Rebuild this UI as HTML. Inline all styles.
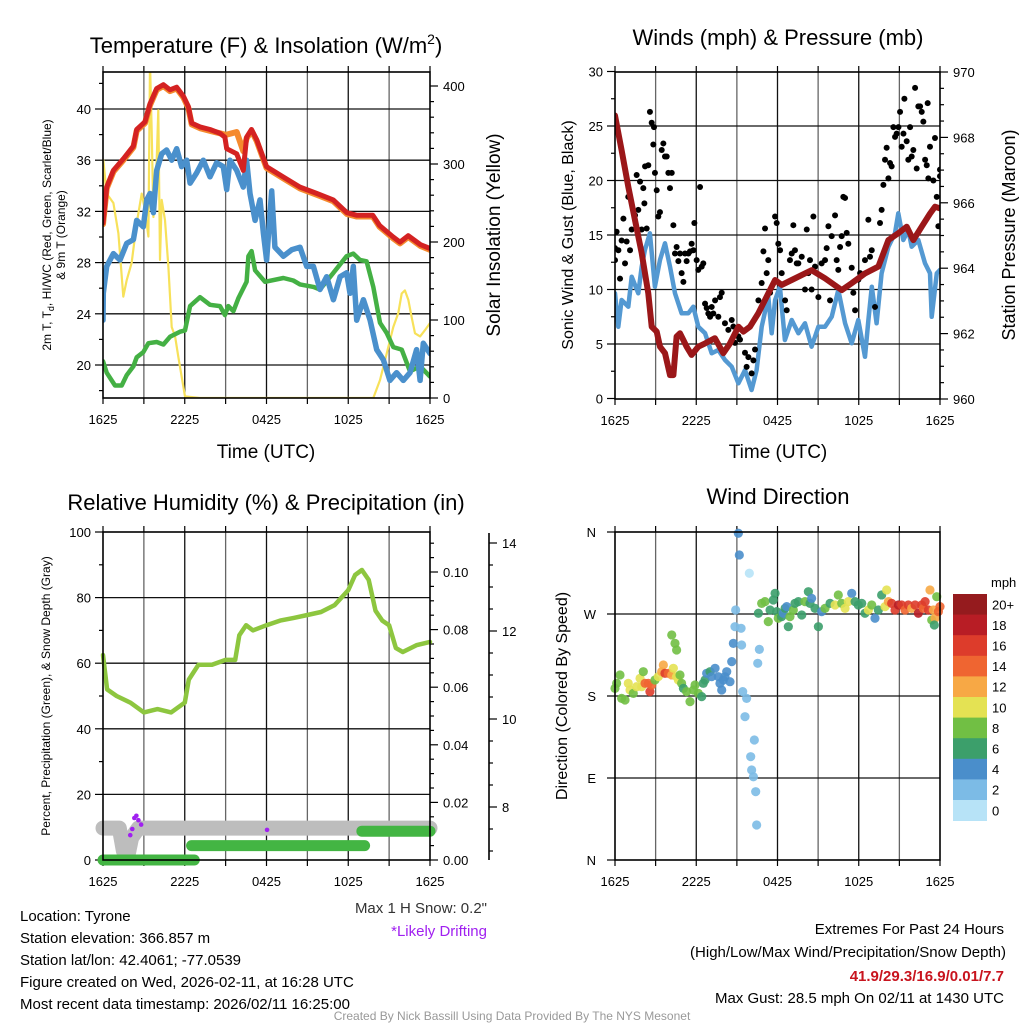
<!DOCTYPE html>
<html><head><meta charset="utf-8"><style>
html,body{margin:0;padding:0;background:#fff;}
svg{display:block;font-family:"Liberation Sans",Arial,sans-serif;}
</style></head><body>
<svg id="chart" width="1024" height="1024" viewBox="0 0 1024 1024" xmlns="http://www.w3.org/2000/svg">
<rect width="1024" height="1024" fill="#fff"/>
<g font-size="22" text-anchor="middle" fill="#000">
<text x="266" y="53">Temperature (F) &amp; Insolation (W/m<tspan dy="-9" font-size="14">2</tspan><tspan dy="9">)</tspan></text>
<text x="778" y="45">Winds (mph) &amp; Pressure (mb)</text>
<text x="266" y="510">Relative Humidity (%) &amp; Precipitation (in)</text>
<text x="778" y="504">Wind Direction</text>
</g>
<g fill="#000" text-anchor="middle">
<text x="266" y="458" font-size="19">Time (UTC)</text>
<text x="778" y="458" font-size="19">Time (UTC)</text>
<text font-size="12" transform="translate(51,235) rotate(-90)">2m T, T<tspan font-size="9" dy="3">d</tspan><tspan dy="-3">, HI/WC (Red, Green, Scarlet/Blue)</tspan></text>
<text font-size="12" transform="translate(65,235) rotate(-90)">&amp; 9m T (Orange)</text>
<text font-size="19" transform="translate(500,235) rotate(-90)">Solar Insolation (Yellow)</text>
<text font-size="16" transform="translate(573,235) rotate(-90)">Sonic Wind &amp; Gust (Blue, Black)</text>
<text font-size="18" transform="translate(1015,235) rotate(-90)">Station Pressure (Maroon)</text>
<text font-size="12" transform="translate(50,696) rotate(-90)">Percent, Precipitation (Green), &amp; Snow Depth (Gray)</text>
<text font-size="16" transform="translate(567,696) rotate(-90)">Direction (Colored By Speed)</text>
</g>
<g id="plots"></g>
<g font-size="15" fill="#000">
<text x="20" y="921">Location: Tyrone</text>
<text x="20" y="943">Station elevation: 366.857 m</text>
<text x="20" y="965">Station lat/lon: 42.4061; -77.0539</text>
<text x="20" y="987">Figure created on Wed, 2026-02-11, at 16:28 UTC</text>
<text x="20" y="1009">Most recent data timestamp: 2026/02/11 16:25:00</text>
<text x="487" y="913" text-anchor="end" fill="#333">Max 1 H Snow: 0.2"</text>
<text x="487" y="936" text-anchor="end" fill="#a020f0">*Likely Drifting</text>
<text x="1004" y="934" text-anchor="end">Extremes For Past 24 Hours</text>
<text x="1006" y="957" text-anchor="end">(High/Low/Max Wind/Precipitation/Snow Depth)</text>
<text x="1004" y="981" text-anchor="end" fill="#c8141e" font-weight="bold">41.9/29.3/16.9/0.01/7.7</text>
<text x="1004" y="1003" text-anchor="end">Max Gust: 28.5 mph On 02/11 at 1430 UTC</text>
<text x="512" y="1020" text-anchor="middle" font-size="12" fill="#999">Created By Nick Bassill Using Data Provided By The NYS Mesonet</text>
</g>
</svg>
<script>
// ---------- DATA ----------
const tempT=[0,0.27,0.76,1.49,2.23,2.47,3.08,3.45,3.94,4.43,4.92,5.41,5.9,6.26,6.51,7.12,7.85,8.59,8.95,9.08,9.81,10.3,10.54,10.9,11.28,12.0,13.2,14.46,15.7,16.9,17.9,18.6,19.8,20.3,21.3,21.8,22.4,23.3,24];
const tempRed=[31.1,33.9,35.2,36.1,37.1,38.4,39.0,40.4,41.6,41.9,41.5,41.7,41.0,40.2,38.9,38.6,38.4,38.1,37.8,36.9,36.5,35.2,37.8,38.4,37.6,35.5,34.7,33.9,33.4,32.9,31.9,31.7,31.7,30.9,30.0,29.6,30.1,29.4,29.1];
const temp9m=[31.0,33.8,35.1,36.0,37.0,38.3,38.9,40.3,41.5,41.8,41.4,41.6,40.9,40.1,38.8,38.5,38.3,38.1,38.0,38.0,38.2,36.7,37.7,38.3,37.5,35.4,34.6,33.8,33.3,32.8,31.8,31.6,31.6,30.8,29.9,29.5,30.0,29.3,29.0];
const hiwcT=[0,0.02,0.27,0.76,1.25,1.74,2.23,2.47,2.96,3.21,3.45,3.7,3.94,4.31,4.67,5.04,5.41,5.77,6.14,6.39,6.87,7.36,7.85,8.34,8.83,9.08,9.32,9.81,10.3,10.54,10.79,11.16,11.52,11.77,12.01,12.38,12.62,13.24,13.85,14.46,14.95,15.44,15.93,16.42,16.91,17.4,17.88,18.13,18.37,18.62,19.11,19.6,20.09,20.58,21.06,21.55,22.04,22.53,23.02,23.27,23.51,24];
const hiwcBlue=[23.5,25.6,27.7,28.7,28.2,29.5,29.8,31.3,30.8,32.9,33.4,31.9,35.2,36.5,36.8,36.0,36.9,35.5,36.0,34.2,35.0,36.0,34.7,35.8,35.5,33.7,36.0,35.2,33.9,36.0,33.4,31.3,32.9,30.3,28.2,33.6,29.2,28.5,29.0,29.2,27.7,27.7,25.9,26.9,25.1,26.9,27.2,25.6,27.7,23.5,25.1,23.5,21.2,20.4,18.8,19.4,18.8,19.4,21.2,18.8,21.7,20.9];
const dewT=[0,0.27,0.88,1.37,1.74,2.23,2.47,2.96,3.33,3.94,4.43,4.92,5.65,6.02,6.39,7.12,7.85,8.59,8.95,9.2,9.57,9.93,10.54,10.67,10.91,11.16,11.89,13.24,13.97,14.46,15.44,15.93,16.91,17.88,18.37,18.86,19.35,19.84,20.33,20.82,21.31,21.92,22.53,23.27,24];
const dewGreen=[20.3,19.4,18.4,18.4,19.2,19.9,20.6,21.0,21.7,21.8,21.6,22.2,22.6,22.7,24.6,25.3,24.7,24.6,23.9,24.6,24.2,25.2,26.5,28.5,28.9,27.4,26.5,26.8,26.6,26.3,26.1,25.9,27.2,28.5,28.7,28.2,28.1,26.1,23.3,22.5,21.4,21.2,19.5,19.9,19.1];
const solarT=[0,0.02,0.27,0.76,1.13,1.49,1.74,2.1,2.47,2.84,3.08,3.33,3.45,3.57,3.7,3.94,4.06,4.18,4.31,4.55,4.8,5.04,5.29,5.53,6.02,7.12,19.84,20.33,20.82,21.31,21.67,21.92,22.16,22.41,22.65,22.9,23.27,23.63,24];
const solarIns=[254,305,262,250,211,130,151,173,224,262,241,207,430,348,232,305,369,177,254,228,168,91,79,53,2,0,0,23,57,91,109,134,138,126,104,83,79,87,96];

const windT=[0,0.24,0.49,0.98,1.23,1.72,1.97,2.21,2.58,2.95,3.32,3.69,4.06,4.43,4.92,5.41,5.78,6.15,6.65,7.14,7.63,8.12,8.62,9.11,9.6,10.09,10.46,10.83,11.32,11.57,11.82,12.18,12.55,13.05,13.54,14.03,14.52,15.02,15.51,16.0,16.49,16.99,17.48,17.97,18.46,18.71,18.96,19.32,19.69,20.19,20.68,20.92,21.29,21.66,21.91,22.4,22.89,23.26,23.39,23.76,24];
const windSpeed=[9.65,6.59,9.04,8.42,11.17,9.65,12.09,13.62,15.16,10.26,12.71,14.24,12.09,9.65,7.82,7.82,8.42,6.59,5.98,4.15,4.45,3.53,2.92,1.39,2.61,0.78,2.61,6.59,9.34,5.98,9.04,10.26,5.37,7.2,5.98,6.9,4.75,6.59,6.59,7.5,9.95,6.9,5.06,7.2,3.83,7.2,10.26,6.9,11.49,13.93,15.16,16.99,14.54,15.46,13.93,14.54,12.4,11.49,7.5,11.49,11.79];
const gustT=[0,0,0.12,0.25,0.37,0.49,0.62,0.74,0.86,0.98,1.11,1.23,1.48,1.6,1.72,1.85,1.97,2.09,2.17,2.22,2.34,2.46,2.58,2.71,2.83,2.88,2.95,3.08,3.2,3.32,3.45,3.57,3.69,3.82,3.94,4.06,4.19,4.31,4.43,4.55,4.68,4.8,4.92,5.05,5.17,5.29,5.42,5.54,5.66,5.79,5.86,6.03,6.15,6.28,6.4,6.52,6.65,6.77,6.89,7.02,7.14,7.26,7.39,7.63,7.75,7.88,8.12,8.37,8.62,8.74,8.86,9.11,9.23,9.6,9.72,9.85,10.09,10.22,10.34,10.59,10.83,10.96,11.08,11.2,11.32,11.45,11.82,11.94,12.06,12.19,12.31,12.56,12.68,12.92,13.05,13.17,13.29,13.42,13.54,13.79,14.03,14.16,14.28,14.4,14.52,14.65,14.77,15.02,15.26,15.51,15.63,15.76,15.88,16.0,16.25,16.37,16.49,16.62,16.74,16.86,16.99,17.11,17.23,17.48,17.6,17.73,17.97,18.1,18.46,18.71,18.83,18.96,19.2,19.57,19.69,19.82,19.94,20.06,20.19,20.31,20.43,20.56,20.68,20.8,20.93,21.05,21.17,21.3,21.37,21.54,21.66,21.79,21.91,22.03,22.16,22.28,22.4,22.53,22.65,22.77,22.9,23.02,23.09,23.14,23.26,23.51,23.63,23.76,23.88,24.0,24.0];
const gustSpeed=[12.7,13.8,15.3,13.6,11.0,14.5,16.5,12.4,14.4,18.5,13.6,15.5,16.8,20.5,17.3,19.9,15.5,19.3,17.9,21.3,15.6,21.4,26.3,25.3,23.3,24.9,20.7,19.1,16.7,17.1,22.8,23.4,22.2,22.2,20.7,19.3,20.7,15.9,13.3,13.9,12.6,13.3,11.5,10.7,13.3,12.6,13.3,13.5,14.2,13.6,16.1,12.7,11.8,19.4,12.1,12.4,8.7,8.3,7.8,7.5,8.4,7.8,9.0,7.5,9.3,9.7,6.9,6.3,7.2,6.6,5.1,5.7,5.4,4.2,2.9,3.8,2.3,3.5,4.5,9.0,10.6,13.5,15.6,11.5,12.7,9.7,16.7,16.1,14.2,13.6,11.5,9.0,8.1,12.7,13.3,15.9,13.6,12.4,12.4,13.0,10.0,15.5,11.5,12.7,10.0,16.7,12.1,9.3,12.4,12.7,13.8,15.8,9.0,14.9,16.8,12.7,11.8,13.9,14.9,18.5,18.4,15.2,14.2,12.0,9.7,8.1,10.9,11.5,12.7,16.4,13.0,13.6,8.4,16.1,17.3,19.6,21.9,23.0,20.2,21.6,21.3,24.9,24.0,24.3,24.9,26.3,23.1,24.3,27.5,23.6,21.9,24.9,22.2,22.8,28.5,21.1,26.8,26.8,26.3,25.4,21.9,21.4,27.1,20.2,23.1,20.0,23.9,18.5,15.8,21.0,20.4];
const presT=[0,0.49,0.98,1.48,1.97,2.46,2.71,3.08,3.32,3.69,4.06,4.31,4.55,4.8,5.05,5.29,5.66,6.15,6.65,7.38,8.0,8.49,9.11,9.48,9.97,10.58,11.32,11.82,12.31,13.05,14.03,14.52,15.51,16.74,17.48,18.46,19.45,20.19,20.92,21.54,22.03,22.65,23.26,23.63,24];
const pressure=[968.67,967.61,966.49,965.47,964.46,963.23,962.21,962.06,961.6,961.4,960.73,960.73,961.91,962.01,961.8,961.6,961.35,961.6,961.7,961.86,961.4,961.7,962.21,962.06,962.21,962.62,963.23,963.64,963.49,963.64,963.84,963.94,963.69,963.33,963.54,963.84,964.05,964.86,965.07,965.27,964.86,965.27,965.67,965.88,965.83];

const rhT=[0,0.3,1,2,3,4,5,6,6.3,7,8,9,9.7,10,10.5,11,12,13,14,15,16,17,18,18.5,19,19.5,20,20.5,21,21.5,22,23,24];
const rhPct=[62.5,52,50,48,45,46,45,48,55,59.5,59.5,61,61,68.5,71.6,70,71.6,73,73.8,74.7,75.6,77.7,82.3,86.9,88.4,85.4,76,73,71.6,64.6,63.4,65.5,66.5];
const precipStart=[0,6.5,19.0];
const precipEnd=[6.7,19.2,24];
const precipIn=[0,0.005,0.01];
const snowT=[0,1.2,1.5,1.8,2.1,2.6,24];
const snowDepth=[7.52,7.52,7.0,6.85,7.3,7.52,7.52];
const driftT=[2.0,2.15,2.3,2.45,2.6,2.8,12.04];
const driftDepth=[7.36,7.5,7.75,7.8,7.7,7.6,7.48];

const dirT=[0,0.12,0.37,0.49,0.74,0.98,1.11,1.35,1.6,1.85,1.97,2.09,2.22,2.46,2.58,2.71,2.95,3.2,3.45,3.57,3.69,3.94,4.19,4.31,4.55,4.68,4.8,4.92,5.05,5.29,5.54,5.79,5.91,6.15,6.4,6.52,6.65,6.77,7.02,7.14,7.39,7.63,7.75,7.88,8.0,8.12,8.25,8.49,8.62,8.74,8.86,8.91,9.11,9.18,9.31,9.35,9.43,9.72,9.6,9.92,10.29,10.02,10.09,10.22,10.39,10.46,10.54,10.66,4.19,4.43,4.55,10.59,10.83,11.08,11.32,11.45,11.69,11.82,11.94,12.06,12.31,12.43,12.56,12.68,12.8,12.92,13.17,13.29,13.54,13.79,14.03,14.28,14.4,14.52,14.77,15.02,15.26,15.51,15.88,16.25,16.49,16.74,16.99,17.23,17.48,17.73,17.97,18.22,18.46,18.71,18.96,19.2,19.45,19.69,19.94,20.06,20.19,20.43,20.68,20.93,21.17,21.42,21.66,21.91,22.16,22.4,22.65,22.77,22.9,23.14,23.26,23.39,23.51,23.63,23.76,23.88,24.0,23.58];
const dirDeg=[188.4,193.9,203.1,177.4,175.6,193.9,186.6,182.9,190.2,199.4,190.2,206.7,193.9,193.9,184.8,192.1,197.6,201.2,206.7,214.0,204.9,204.9,203.1,210.4,201.2,197.6,203.1,193.9,188.4,184.8,173.8,186.6,192.1,182.9,179.3,193.9,197.6,204.9,206.7,201.2,210.4,201.2,193.9,186.6,197.6,201.2,206.7,195.7,217.7,237.8,256.1,274.4,358.6,334.8,254.3,236.0,184.8,177.4,157.3,314.7,131.7,113.4,98.8,91.4,75.0,38.4,215.9,231.2,247.0,237.8,230.5,270.8,281.7,283.6,261.6,274.4,285.4,292.7,272.6,265.3,267.1,270.8,276.2,278.1,256.1,267.1,274.4,281.7,283.6,268.9,283.6,294.5,281.7,287.2,276.2,256.1,272.6,276.2,281.7,279.9,290.9,281.7,276.2,283.6,292.7,283.6,279.9,281.7,270.8,274.4,279.9,265.3,274.4,290.9,278.1,296.4,283.6,281.7,274.4,279.9,279.9,274.4,279.9,276.2,279.9,270.8,279.9,276.2,283.6,274.4,296.4,263.4,274.4,265.3,289.0,272.6,278.1,257.9];
const dirSpeed=[7,8,7,7,7,10,9,7,9,10,10,8,14,14,15,14,8,10,12,12,15,14,12,10,10,9,8,7,6,7,8,8,8,7,6,6,5,4,6,4,4,4,4,4,4,3,4,4,3,3,2,2,3,3,2,2,2,2,2,0,1,1,2,1,2,2,2,2,8,8,8,5,7,8,8,6,6,6,6,7,6,4,5,4,6,7,8,6,6,6,7,6,6,4,6,6,4,7,6,9,7,7,9,10,4,6,6,6,6,9,7,4,6,6,9,10,12,16,16,18,16,14,16,12,16,18,16,14,16,16,12,8,12,12,7,14,14,6];
const speedBins=["0","2","4","6","8","10","12","14","16","18","20+"];
const speedColors=["#b7e3f7","#7cbbe6","#4a8ecb","#3c9f6b","#71bf44","#e4e253","#f7a845","#ef6531","#dd3c2b","#b81d25","#951b1e"];

// ---------- HELPERS ----------
const NS="http://www.w3.org/2000/svg";
const root=document.getElementById('plots');
function mk(tag,attrs,parent){const e=document.createElementNS(NS,tag);for(const k in attrs)e.setAttribute(k,attrs[k]);(parent||root).appendChild(e);return e;}
function lin(d0,d1,r0,r1){return v=>r0+(v-d0)*(r1-r0)/(d1-d0);}
const tickHours=[0,6,12,18,24];
const tickNames=["1625","2225","0425","1025","1625"];

function frame(P,name){
  const g=mk('g',{});
  
  
  const xs=lin(0,24,P.x0,P.x1);
  for(let h=3;h<24;h+=3){
    const l=mk('line',{x1:xs(h),x2:xs(h),y1:P.y0,y2:P.y1,stroke:(h%6===0)?'#111':'#666','stroke-width':1.3},g);
    
    
  }
  for(let h=0;h<=24;h+=3){
    mk('line',{x1:xs(h),x2:xs(h),y1:P.y1,y2:P.y1+6,stroke:'#000','stroke-width':1.2},g);
    mk('line',{x1:xs(h),x2:xs(h),y1:P.y0,y2:P.y0-6,stroke:'#000','stroke-width':1.2},g);
  }
  tickHours.forEach((h,i)=>{
    const t=mk('text',{x:xs(h),y:P.y1+26,'font-size':13,'text-anchor':'middle'},g);
    
    
    t.textContent=tickNames[i];
  });
  return {g,xs};
}
function hgrid(g,P,ys,vals){
  vals.forEach(v=>{const l=mk('line',{x1:P.x0,x2:P.x1,y1:ys(v),y2:ys(v),stroke:'#111','stroke-width':1.3},g);
  
  });
}
function yaxis(g,x,ys,lo,hi,step,labStep,side,fmt,dec){
  for(let v=lo;v<=hi+1e-9;v+=step){
    const y=ys(v); const major=Math.abs(v/labStep-Math.round(v/labStep))<1e-6;
    const len=major?8:4;
    mk('line',{x1:x,x2:x+(side==='left'?-len:len),y1:y,y2:y,stroke:'#000','stroke-width':1.2},g);
    if(major&&fmt){
      const t=mk('text',{x:side==='left'?x-12:x+13,y:y+5,'font-size':13,'text-anchor':side==='left'?'end':'start'},g);
      
      
      t.textContent=v.toFixed(dec);
    }
  }
}
function path(g,xs,ys,T,V,stroke,w,name){
  const d=T.map((t,i)=>(i?'L':'M')+xs(t).toFixed(1)+','+ys(V[i]).toFixed(1)).join('');
  const p=mk('path',{d,fill:'none',stroke,'stroke-width':w,'stroke-linejoin':'round','stroke-linecap':'round'},g);
  
  
  return p;
}
function clip(P,id){const c=mk('clipPath',{id});mk('rect',{x:P.x0,y:P.y0,width:P.x1-P.x0,height:P.y1-P.y0},c);return 'url(#'+id+')';}
function border(g,P){const r=mk('rect',{x:P.x0,y:P.y0,width:P.x1-P.x0,height:P.y1-P.y0,fill:'none',stroke:'#000','stroke-width':1.6},g);
  
  }
function speedColor(s){return speedColors[Math.min(10,Math.max(0,Math.floor((s+1)/2)))];}

// ---------- PANEL 1 ----------
(function(){
  const P={x0:103,x1:430,y0:72,y1:398};
  const {g,xs}=frame(P,'temperature-panel');
  const yl=lin(20,40,365,109), yr=lin(0,400,398,86);
  hgrid(g,P,yl,[20,24,28,32,36,40]);
  yaxis(g,P.x0,yl,18,42,2,4,'left',true,0);
  yaxis(g,P.x1,yr,0,400,20,100,'right',true,0);
  const d=mk('g',{'clip-path':clip(P,'c1')},g);
  path(d,xs,yr,solarT,solarIns,'#f7e15a',2.2,'solar-insolation-line');
  path(d,xs,yl,dewT,dewGreen,'#44b044',4.5,'dewpoint-line');
  path(d,xs,yl,hiwcT,hiwcBlue,'#4a90cc',5.5,'heat-index-wind-chill-line');
  path(d,xs,yl,tempT,temp9m,'#f58a2e',6,'temp-9m-line');
  path(d,xs,yl,tempT,tempRed,'#d42222',5,'temp-2m-line');
  border(g,P);
})();

// ---------- PANEL 2 ----------
(function(){
  const P={x0:615,x1:940,y0:72,y1:399};
  const {g,xs}=frame(P,'wind-panel');
  const yl=lin(0,30,398.5,71.5), yr=lin(960,970,399,72);
  hgrid(g,P,yl,[5,10,15,20,25]);
  yaxis(g,P.x0,yl,0,30,2.5,5,'left',true,0);
  yaxis(g,P.x1,yr,960,970,0.5,2,'right',true,0);
  const d=mk('g',{'clip-path':clip(P,'c2')},g);
  path(d,xs,yl,windT,windSpeed,'#5499d2',4.5,'sonic-wind-line');
  gustT.forEach((t,i)=>{const c=mk('circle',{cx:xs(t),cy:yl(gustSpeed[i]),r:3,fill:'#000'},d);
    
    });
  path(d,xs,yr,presT,pressure,'#9b1719',6,'pressure-line');
  border(g,P);
})();

// ---------- PANEL 3 ----------
(function(){
  const P={x0:103,x1:430,y0:532,y1:860};
  const {g,xs}=frame(P,'humidity-panel');
  const yl=lin(0,100,860,532), yp=lin(0,0.1,860,572), ys=lin(8,14,807,543);
  hgrid(g,P,yl,[20,40,60,80]);
  yaxis(g,P.x0,yl,0,100,10,20,'left',true,0);
  yaxis(g,P.x1,yp,0,0.11,0.005,0.02,'right',true,2);
  const ax=mk('line',{x1:489,x2:489,y1:533,y2:860,stroke:'#000','stroke-width':1.6},g);
  
  
  yaxis(g,489,ys,7,14,0.5,2,'right',true,0);
  path(g,xs,ys,snowT,snowDepth,'#bdbdbd',15,'snow-depth-line');
  precipStart.forEach((s,i)=>{const l=mk('line',{x1:xs(s),x2:xs(precipEnd[i]),y1:yp(precipIn[i]),y2:yp(precipIn[i]),stroke:'#43b543','stroke-width':11,'stroke-linecap':'round'},g);
    
    });
  driftT.forEach((t,i)=>{const c=mk('circle',{cx:xs(t),cy:ys(driftDepth[i]),r:2.3,fill:'#a020f0'},g);
    
    });
  path(g,xs,yl,rhT,rhPct,'#8dc63f',4.5,'relative-humidity-line');
  border(g,P);
})();

// ---------- PANEL 4 ----------
(function(){
  const P={x0:615,x1:940,y0:532,y1:860};
  const {g,xs}=frame(P,'direction-panel');
  const yd=lin(0,360,860,532);
  hgrid(g,P,yd,[90,180,270]);
  const names=["N","E","S","W","N"];
  [0,90,180,270,360].forEach((v,i)=>{
    mk('line',{x1:P.x0,x2:P.x0-8,y1:yd(v),y2:yd(v),stroke:'#000','stroke-width':1.2},g);
    const t=mk('text',{x:P.x0-19,y:yd(v)+5,'font-size':13,'text-anchor':'end'},g);
    
    
    t.textContent=names[i];
  });
  const d=mk('g',{'clip-path':clip({x0:P.x0-6,x1:P.x1+6,y0:P.y0-6,y1:P.y1},'c4')},g);
  dirT.forEach((t,i)=>{const c=mk('circle',{cx:xs(t),cy:yd(dirDeg[i]),r:4.6,fill:speedColor(dirSpeed[i]),'fill-opacity':0.9},d);
    
    });
  border(g,P);
  const cb=mk('g',{});
  
  
  const h=20.6, top=594;
  const mt=mk('text',{x:991,y:587,'font-size':13},cb);
  
  
  mt.textContent='mph';
  for(let k=0;k<11;k++){
    const idx=10-k;
    const r=mk('rect',{x:953,y:top+k*h,width:34,height:h+0.4,fill:speedColors[idx]},cb);
    
    
    const t=mk('text',{x:992,y:top+k*h+h/2+5,'font-size':13},cb);
    
    
    t.textContent=speedBins[idx];
  }
})();
</script>
</body></html>
